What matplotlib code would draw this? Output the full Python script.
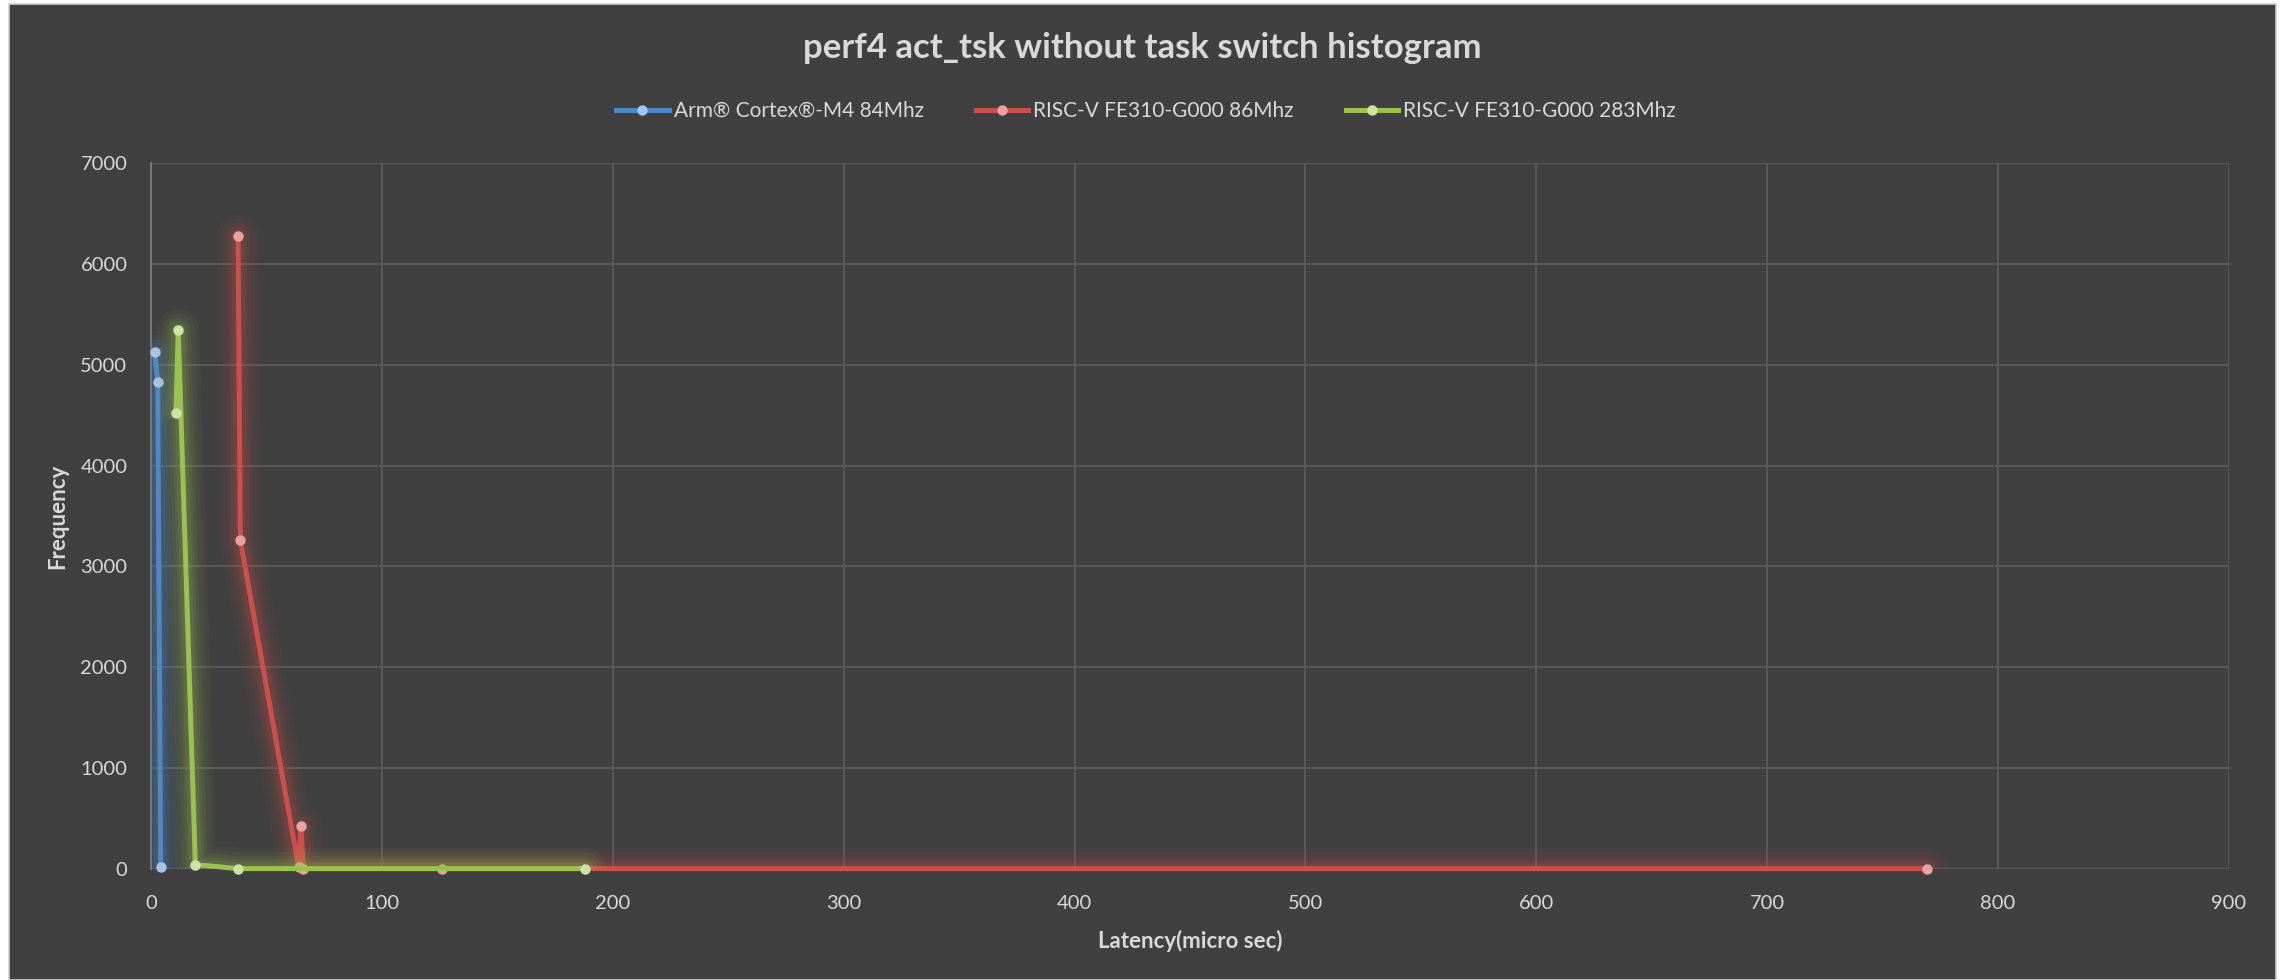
import matplotlib
matplotlib.use("Agg")
import matplotlib.pyplot as plt
from matplotlib.lines import Line2D
from matplotlib.patches import Rectangle

# latency (micro sec) / frequency pairs per core
arm_x = [1.6, 2.9, 4.2]
arm_y = [5130, 4825, 20]

rv86_x = [37.7, 38.7, 63.9, 64.9, 66.0, 126.0, 769.0]
rv86_y = [6282, 3259, 18, 423, 0, 0, 0]

rv283_x = [10.8, 11.8, 19.2, 37.6, 188.0]
rv283_y = [4525, 5345, 40, 0, 0]

labels = ["Arm® Cortex®-M4 84Mhz", "RISC-V FE310-G000 86Mhz", "RISC-V FE310-G000 283Mhz"]
x_ticks = [0, 100, 200, 300, 400, 500, 600, 700, 800, 900]
y_ticks = [0, 1000, 2000, 3000, 4000, 5000, 6000, 7000]

bg = "#404040"
txt = "#d9d9d9"
grid = "#595959"
colors = ["#4f86c6", "#c9504c", "#9bc152"]
marker_colors = ["#a7c3e6", "#e8a3a1", "#cfe2a6"]

plt.rcParams["font.family"] = ["Lato", "DejaVu Sans"]

fig = plt.figure(figsize=(22.85, 9.8), dpi=100, facecolor="white")
fig.patches.append(Rectangle((9 / 2285, 0), 2267 / 2285, 976 / 980, transform=fig.transFigure,
                             facecolor=bg, edgecolor="#d0d0d0", linewidth=1.2, zorder=-10))

ax = fig.add_axes([151 / 2285, 1 - 868.6 / 980, 2078 / 2285, 705.3 / 980])
ax.set_facecolor(bg)
ax.set_xlim(0, 900)
ax.set_ylim(0, 7000)
ax.set_xticks(x_ticks)
ax.set_yticks(y_ticks)
ax.grid(True, color=grid, linewidth=1.4)
ax.set_axisbelow(True)
for side in ["top", "right", "bottom"]:
    ax.spines[side].set_visible(False)
ax.spines["left"].set_color("#7a7a7a")
ax.spines["left"].set_linewidth(1.4)
ax.tick_params(length=0, labelsize=14.5, labelcolor=txt)
ax.tick_params(axis="y", pad=17)
ax.tick_params(axis="x", pad=19)

series = [(arm_x, arm_y), (rv86_x, rv86_y), (rv283_x, rv283_y)]
for i, (xs, ys) in enumerate(series):
    c = colors[i]
    z = 3 + i
    # soft glow around each line, kept inside the plot area
    for w, a in [(30, 0.05), (24, 0.06), (18, 0.08), (13, 0.1), (9, 0.12)]:
        ax.plot(xs, ys, color=c, linewidth=w, alpha=a, solid_capstyle="round",
                solid_joinstyle="round", zorder=z)
    ax.plot(xs, ys, color=c, linewidth=3.6, solid_capstyle="round",
            solid_joinstyle="round", zorder=z + 0.2, clip_on=False)
    ax.plot(xs, ys, "o", color=marker_colors[i], markersize=7.5, markeredgewidth=0,
            zorder=z + 0.3, clip_on=False)

ax.set_xlabel("Latency(micro sec)", fontsize=16, fontweight="bold", color=txt, labelpad=13)
ax.set_ylabel("Frequency", fontsize=16, fontweight="bold", color=txt, labelpad=9)

fig.text(1142 / 2285, 1 - 48 / 980, "perf4 act_tsk without task switch histogram",
         ha="center", va="center", fontsize=25, fontweight="bold", color=txt)

handles = [Line2D([], [], color=colors[i], linewidth=3.6, marker="o", markersize=7.5,
                  markerfacecolor=marker_colors[i], markeredgewidth=0) for i in range(3)]
fig.legend(handles, labels, loc="center", bbox_to_anchor=(1146 / 2285, 1 - 111 / 980), ncol=3,
           frameon=False, fontsize=15, labelcolor=txt, handlelength=2.5, handletextpad=0.25,
           columnspacing=2.5)

fig.savefig("out.png", dpi=100, facecolor="white")
